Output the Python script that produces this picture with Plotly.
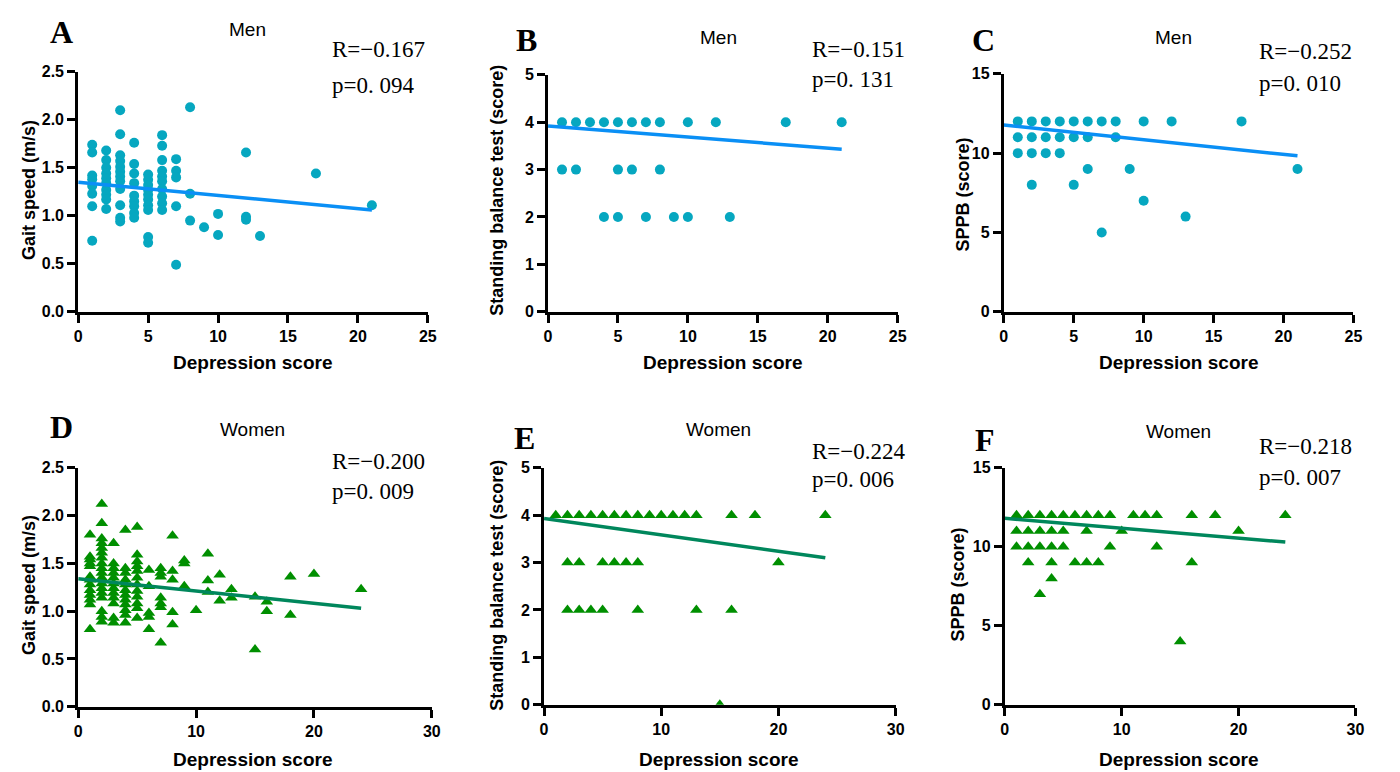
import plotly.graph_objects as go

# ---------------- DATA ----------------
men_gait_x = [1,1,1,1,1,1,1,1,
              2,2,2,2,2,2,2,2,2,2,
              3,3,3,3,3,3,3,3,3,3,3,3,
              4,4,4,4,4,4,4,4,4,
              5,5,5,5,5,5,5,5,5,5,
              6,6,6,6,6,6,6,6,6,6,
              7,7,7,7,7,
              8,8,8, 9, 10,10, 12,12,12, 13, 17, 21]
men_gait_y = [1.74,1.66,1.42,1.38,1.31,1.23,1.10,0.74,
              1.68,1.58,1.50,1.44,1.39,1.34,1.27,1.22,1.17,1.07,
              2.10,1.85,1.63,1.57,1.51,1.46,1.41,1.36,1.28,1.11,0.98,0.94,
              1.76,1.54,1.44,1.34,1.21,1.15,1.10,1.03,0.98,
              1.43,1.375,1.32,1.27,1.22,1.17,1.11,1.06,0.78,0.72,
              1.84,1.73,1.58,1.47,1.41,1.36,1.28,1.20,1.13,1.06,
              1.59,1.47,1.40,1.10,0.49,
              2.13,1.23,0.95, 0.88, 1.02,0.80, 1.66,0.99,0.96, 0.79, 1.44, 1.11]
men_gait_fit_x = [0, 21]
men_gait_fit_y = [1.35, 1.06]

men_bal_x = [1,2,3,4,5,6,7,8,10,12,17,21,
             1,2,5,6,8,
             4,5,7,9,10,13]
men_bal_y = [4,4,4,4,4,4,4,4,4,4,4,4,
             3,3,3,3,3,
             2,2,2,2,2,2]
men_bal_fit_x = [0, 21]
men_bal_fit_y = [3.92, 3.43]

men_sppb_x = [1,2,3,4,5,6,7,8,10,12,17,
              1,2,3,4,5,6,8,
              1,2,3,4,
              6,9,21,
              2,5,
              10, 13, 7]
men_sppb_y = [12,12,12,12,12,12,12,12,12,12,12,
              11,11,11,11,11,11,11,
              10,10,10,10,
              9,9,9,
              8,8,
              7, 6, 5]
men_sppb_fit_x = [0, 21]
men_sppb_fit_y = [11.77, 9.83]

women_gait_x = [1,1,1,1,1,1,1,1,1,1,1,1,1,
                2,2,2,2,2,2,2,2,2,2,2,2,2,2,2,2,2,2,
                3,3,3,3,3,3,3,3,3,3,3,3,
                4,4,4,4,4,4,4,4,4,4,4,4,
                5,5,5,5,5,5,5,5,5,5,5,5,
                6,6,6,6,6,
                7,7,7,7,7,7,7,
                8,8,8,8,8,
                9,9,9, 10, 11,11,11, 12,12, 13,13, 15,15,
                16,16, 18,18, 20, 24]
women_gait_y = [1.80,1.57,1.54,1.50,1.47,1.36,1.33,1.28,1.22,1.17,1.12,1.07,0.81,
                2.12,1.92,1.76,1.71,1.66,1.61,1.56,1.50,1.45,1.40,1.35,1.29,1.24,1.19,1.14,1.00,0.94,0.89,
                1.71,1.50,1.45,1.40,1.35,1.29,1.24,1.19,1.14,1.08,0.93,0.88,
                1.85,1.45,1.40,1.33,1.28,1.22,1.17,1.12,1.07,1.01,0.96,0.88,
                1.88,1.59,1.52,1.47,1.42,1.35,1.28,1.21,1.15,1.08,1.03,0.93,
                1.43,1.26,0.98,0.94,0.81,
                1.45,1.40,1.36,1.14,1.08,1.04,0.67,
                1.79,1.42,1.33,0.99,0.86,
                1.53,1.50,1.26, 1.01, 1.60,1.32,1.20, 1.38,1.11, 1.23,1.14, 1.15,0.60,
                1.10,1.00, 1.36,0.96, 1.39, 1.23]
women_gait_fit_x = [0, 24]
women_gait_fit_y = [1.34, 1.03]

women_bal_x = [1,2,3,4,5,6,7,8,9,10,11,12,13,16,18,24,
               2,3,5,6,7,8,20,
               2,3,4,5,8,13,16,
               15]
women_bal_y = [4,4,4,4,4,4,4,4,4,4,4,4,4,4,4,4,
               3,3,3,3,3,3,3,
               2,2,2,2,2,2,2,
               0]
women_bal_fit_x = [0, 24]
women_bal_fit_y = [3.93, 3.10]

women_sppb_x = [1,2,3,4,5,6,7,8,9,11,12,13,16,18,24,
                1,2,3,4,5,7,10,20,
                1,2,3,4,5,9,13,
                2,4,6,7,8,16,
                4, 3, 15]
women_sppb_y = [12,12,12,12,12,12,12,12,12,12,12,12,12,12,12,
                11,11,11,11,11,11,11,11,
                10,10,10,10,10,10,10,
                9,9,9,9,9,9,
                8, 7, 4]
women_sppb_fit_x = [0, 24]
women_sppb_fit_y = [11.8, 10.3]

panel_letters = ["A", "B", "C", "D", "E", "F"]
panel_titles = ["Men", "Men", "Men", "Women", "Women", "Women"]
r_texts = ["R=\u22120.167", "R=\u22120.151", "R=\u22120.252",
           "R=\u22120.200", "R=\u22120.224", "R=\u22120.218"]
p_texts = ["p=0. 094", "p=0. 131", "p=0. 010", "p=0. 009", "p=0. 006", "p=0. 007"]
x_title = "Depression score"
y_titles = ["Gait speed (m/s)", "Standing balance test (score)", "SPPB (score)",
            "Gait speed (m/s)", "Standing balance test (score)", "SPPB (score)"]

# ---------------- STYLE ----------------
W, H = 1400, 772
# measured mapping from figure pixels to the photographed page
OFF_X, SC_X = 12.9, 0.989
OFF_Y, SC_Y = 16.2, 0.978
MEN_MARK = "#06A7C0"
MEN_LINE = "#0A8FF5"
WOM_MARK = "#008F00"
WOM_LINE = "#00875C"
SANS = "Liberation Sans, Arial, sans-serif"
SERIF = "Liberation Serif, Times New Roman, serif"

# plot-area boxes in target pixels: (left, right, top, bottom)
boxes = [(79, 428, 72, 312), (548, 897, 75, 312), (1003, 1352, 74, 312),
         (79, 432, 468, 707), (544, 895, 468, 705), (1004, 1354, 468, 705)]
xranges = [[0, 25]] * 3 + [[0, 30]] * 3
xdticks = [5, 5, 5, 10, 10, 10]
yranges = [[0, 2.5], [0, 5], [0, 15], [0, 2.5], [0, 5], [0, 15]]
ydticks = [0.5, 1, 5, 0.5, 1, 5]
yfmts = [".1f", "d", "d", ".1f", "d", "d"]

series = [
    (men_gait_x, men_gait_y, men_gait_fit_x, men_gait_fit_y, "circle", MEN_MARK, MEN_LINE, 10),
    (men_bal_x, men_bal_y, men_bal_fit_x, men_bal_fit_y, "circle", MEN_MARK, MEN_LINE, 10),
    (men_sppb_x, men_sppb_y, men_sppb_fit_x, men_sppb_fit_y, "circle", MEN_MARK, MEN_LINE, 10),
    (women_gait_x, women_gait_y, women_gait_fit_x, women_gait_fit_y, "triangle-up", WOM_MARK, WOM_LINE, 11),
    (women_bal_x, women_bal_y, women_bal_fit_x, women_bal_fit_y, "triangle-up", WOM_MARK, WOM_LINE, 11),
    (women_sppb_x, women_sppb_y, women_sppb_fit_x, women_sppb_fit_y, "triangle-up", WOM_MARK, WOM_LINE, 11),
]

letter_pos = [(62, 32), (527, 40), (983, 40), (62, 427), (525, 438), (984, 440)]
title_pos = [(248, 30), (718, 38), (1172, 38), (253, 430), (718, 430), (1177, 432)]
r_pos = [(330, 50), (810, 50), (1256, 52), (330, 462), (810, 452), (1256, 447)]
p_pos = [(330, 86), (810, 80), (1256, 84), (330, 492), (810, 480), (1256, 478)]
xt_pos = [(253, 363), (722, 363), (1177, 363), (253, 760), (718, 760), (1177, 760)]
yt_pos = [(30, 190), (497, 190), (962, 195), (30, 585), (497, 585), (957, 585)]

fig = go.Figure()
layout = dict(width=W, height=H, margin=dict(l=0, r=0, t=0, b=0), autosize=False,
              plot_bgcolor="white", paper_bgcolor="white", showlegend=False)
annotations = []

def px2x(px):
    return ((px - OFF_X) / SC_X) / W

def py2y(py):
    return 1 - ((py - OFF_Y) / SC_Y) / H

for i, (sx, sy, fx, fy, sym, mc, lc, ms) in enumerate(series):
    n = i + 1
    xa = "x" if n == 1 else f"x{n}"
    ya = "y" if n == 1 else f"y{n}"
    fig.add_trace(go.Scatter(x=sx, y=sy, mode="markers", xaxis=xa, yaxis=ya,
                             marker=dict(symbol=sym, size=ms, color=mc, line=dict(width=0))))
    fig.add_trace(go.Scatter(x=fx, y=fy, mode="lines", xaxis=xa, yaxis=ya,
                             line=dict(color=lc, width=3.5)))
    l, r, t, b = boxes[i]
    axis_common = dict(showline=True, linewidth=3, linecolor="black", ticks="outside",
                       ticklen=8, tickwidth=3, tickcolor="black", showgrid=False,
                       zeroline=False, mirror=False,
                       tickfont=dict(family=SANS, size=16, color="black", weight="bold"))
    layout["xaxis" if n == 1 else f"xaxis{n}"] = dict(
        domain=[px2x(l), px2x(r)], range=xranges[i], tick0=0, dtick=xdticks[i],
        anchor=ya, **axis_common)
    layout["yaxis" if n == 1 else f"yaxis{n}"] = dict(
        domain=[py2y(b), py2y(t)], range=yranges[i], tick0=0, dtick=ydticks[i],
        tickformat=yfmts[i], anchor=xa, **axis_common)

    annotations.append(dict(text=f"<b>{panel_letters[i]}</b>", x=px2x(letter_pos[i][0]), y=py2y(letter_pos[i][1]),
                            xref="paper", yref="paper", showarrow=False, xanchor="center", yanchor="middle",
                            font=dict(family=SERIF, size=32, color="black")))
    annotations.append(dict(text=panel_titles[i], x=px2x(title_pos[i][0]), y=py2y(title_pos[i][1]),
                            xref="paper", yref="paper", showarrow=False, xanchor="center", yanchor="middle",
                            font=dict(family=SANS, size=19, color="black")))
    annotations.append(dict(text=r_texts[i], x=px2x(r_pos[i][0]), y=py2y(r_pos[i][1]),
                            xref="paper", yref="paper", showarrow=False, xanchor="left", yanchor="middle",
                            font=dict(family=SERIF, size=23, color="black")))
    annotations.append(dict(text=p_texts[i], x=px2x(p_pos[i][0]), y=py2y(p_pos[i][1]),
                            xref="paper", yref="paper", showarrow=False, xanchor="left", yanchor="middle",
                            font=dict(family=SERIF, size=23, color="black")))
    annotations.append(dict(text=f"<b>{x_title}</b>", x=px2x(xt_pos[i][0]), y=py2y(xt_pos[i][1]),
                            xref="paper", yref="paper", showarrow=False, xanchor="center", yanchor="middle",
                            font=dict(family=SANS, size=19, color="black")))
    annotations.append(dict(text=f"<b>{y_titles[i]}</b>", x=px2x(yt_pos[i][0]), y=py2y(yt_pos[i][1]),
                            xref="paper", yref="paper", showarrow=False, xanchor="center", yanchor="middle",
                            textangle=-90, font=dict(family=SANS, size=18, color="black")))

layout["annotations"] = annotations
fig.update_layout(**layout)
fig.write_html("out.html")
